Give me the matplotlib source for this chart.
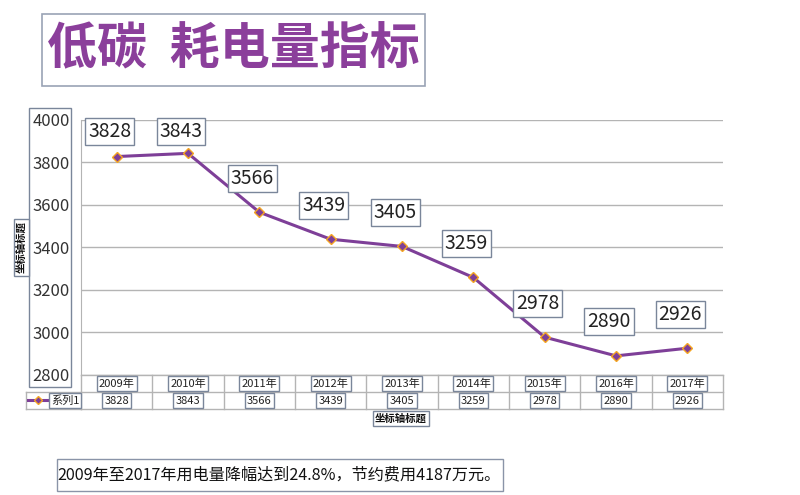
import matplotlib
matplotlib.use("Agg")
import matplotlib.pyplot as plt
from matplotlib.lines import Line2D
from matplotlib.patches import Rectangle
import matplotlib.transforms as mtransforms

plt.rcParams['font.family'] = ['Noto Sans CJK SC', 'DejaVu Sans']

years = ['2009年', '2010年', '2011年', '2012年', '2013年', '2014年', '2015年', '2016年', '2017年']
values = [3828, 3843, 3566, 3439, 3405, 3259, 2978, 2890, 2926]
series_name = '系列1'
yticks = [2800, 3000, 3200, 3400, 3600, 3800, 4000]
title = '低碳  耗电量指标'
axis_title = '坐标轴标题'
footnote = '2009年至2017年用电量降幅达到24.8%，节约费用4187万元。'

W, H = 800, 495
fig = plt.figure(figsize=(8, 4.95), dpi=100)

def fx(x):
    return x / W

def fy(y):
    return 1 - y / H

PURPLE = '#7E3F98'
ORANGE = '#F5A623'
EDGE = '#7A869A'
GRID = '#B4B4B4'

# plot area
L, R, T, B = 81, 723, 120, 375
ax = fig.add_axes([fx(L), fy(B), (R - L) / W, (B - T) / H])
ax.set_xlim(-0.5, len(values) - 0.5)
ax.set_ylim(yticks[0], yticks[-1])
ax.set_yticks(yticks)
ax.set_yticklabels([str(t) for t in yticks], fontsize=12, color='#333333')
ax.tick_params(axis='y', length=0, pad=8)
ax.set_xticks([])
for s in ['top', 'right', 'bottom']:
    ax.spines[s].set_visible(False)
ax.spines['left'].set_color(GRID)
ax.yaxis.grid(True, color=GRID, lw=1)
ax.set_axisbelow(True)

xs = list(range(len(values)))
ax.plot(xs, values, color=PURPLE, lw=2.2, marker='D', markersize=5,
        markerfacecolor=PURPLE, markeredgecolor=ORANGE, markeredgewidth=1.0,
        clip_on=False, zorder=3)

box = dict(boxstyle='square,pad=0.15', fc='white', ec=EDGE, lw=1)
for x, v in zip(xs, values):
    ly = min(v + 160, 3945)
    ax.annotate(str(v), xy=(x, ly), xytext=(-5, 0), textcoords='offset points',
                ha='center', va='center', fontsize=14, color='#222222',
                bbox=box, zorder=4)

# tick label box
fig.add_artist(Rectangle((fx(29), fy(387)), (71 - 29) / W, (387 - 108) / H,
                         transform=fig.transFigure, fill=False, ec=EDGE, lw=1))

# data table below
bt = mtransforms.blended_transform_factory(ax.transData, fig.transFigure)
r0, r1, r2 = 375, 392, 409
xl, xr = -0.5, len(values) - 0.5
for yy, x0 in [(r0, None), (r1, 26), (r2, 26)]:
    fig.add_artist(Line2D([xl, xr], [fy(yy), fy(yy)], transform=bt, color=GRID, lw=1))
    if x0 is not None:
        fig.add_artist(Line2D([fx(x0), fx(L)], [fy(yy), fy(yy)],
                              transform=fig.transFigure, color=GRID, lw=1))
for i in range(len(values) + 1):
    xb = i - 0.5
    fig.add_artist(Line2D([xb, xb], [fy(r0), fy(r2)], transform=bt, color=GRID, lw=1))
fig.add_artist(Line2D([fx(26), fx(26)], [fy(r1), fy(r2)],
                      transform=fig.transFigure, color=GRID, lw=1))

sbox = dict(boxstyle='square,pad=0.2', fc='white', ec=EDGE, lw=1)
for x, yr, v in zip(xs, years, values):
    fig.text(x, fy((r0 + r1) / 2), yr, transform=bt, ha='center', va='center',
             fontsize=8, color='#222222', bbox=sbox)
    fig.text(x, fy((r1 + r2) / 2), str(v), transform=bt, ha='center', va='center',
             fontsize=8, color='#222222', bbox=sbox)

# legend key in table
fig.add_artist(Line2D([fx(28), fx(48)], [fy(400), fy(400)], transform=fig.transFigure,
                      color=PURPLE, lw=2.2))
fig.add_artist(Line2D([fx(38)], [fy(400)], transform=fig.transFigure, marker='D',
                      markersize=4.5, markerfacecolor=PURPLE, markeredgecolor=ORANGE,
                      markeredgewidth=1.0, lw=0))
fig.text(fx(65), fy(400.5), series_name, ha='center', va='center', fontsize=8,
         color='#222222', bbox=sbox)

# axis titles
fig.text(fx(401), fy(418.5), axis_title, ha='center', va='center', fontsize=7.5,
         fontweight='bold', color='#111111', bbox=sbox)
fig.text(fx(21.5), fy(247.5), axis_title, ha='center', va='center', fontsize=7.5,
         fontweight='bold', color='#111111', rotation=90, bbox=sbox)

# title
fig.add_artist(Rectangle((fx(42), fy(86)), (425 - 42) / W, (86 - 14) / H,
                         transform=fig.transFigure, fill=False, ec='#9AA3B5', lw=1.2))
fig.text(fx(233.5), fy(50), title, ha='center', va='center', fontsize=36,
         fontweight='bold', color='#8B3F9B')

# footnote
fig.add_artist(Rectangle((fx(57), fy(491)), (503 - 57) / W, (491 - 459) / H,
                         transform=fig.transFigure, fill=False, ec='#8A94A8', lw=1))
fig.text(fx(279), fy(475), footnote, ha='center', va='center', fontsize=11.6,
         color='#111111')

fig.savefig('out.png', dpi=100)
